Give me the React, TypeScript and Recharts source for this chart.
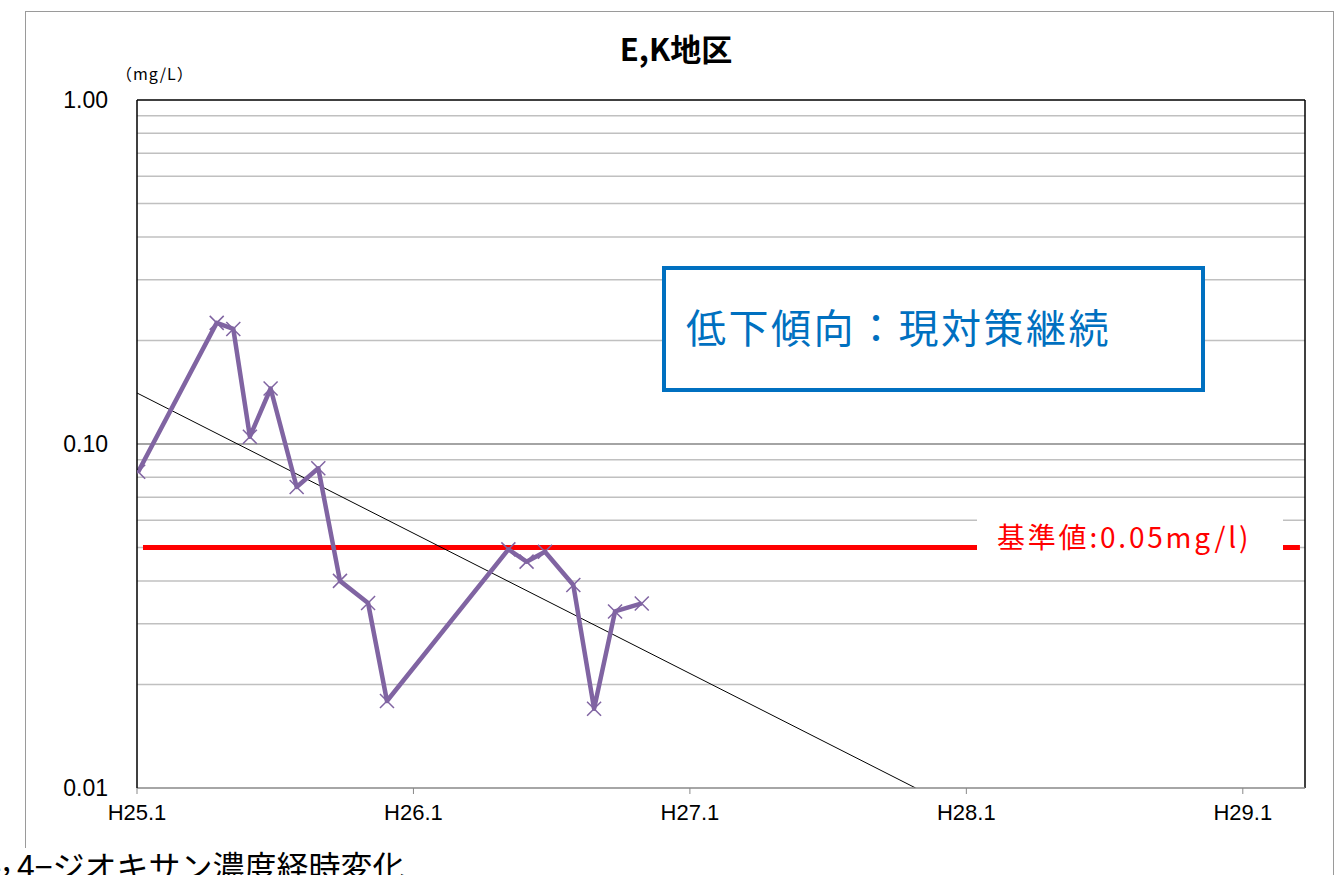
import React from 'react'
import {
  LineChart,
  Line,
  XAxis,
  YAxis,
  ReferenceLine,
} from 'recharts'

// months since H25.1 (Jan 2013) and measured 1,4-dioxane concentration (mg/L)
const months = [0.05, 3.46, 4.18, 4.9, 5.8, 6.93, 7.87, 8.81, 10.03, 10.85, 16.12, 16.91, 17.71, 18.94, 19.84, 20.75, 21.91]
const conc = [0.083, 0.225, 0.216, 0.105, 0.145, 0.075, 0.085, 0.04, 0.0345, 0.0179, 0.0494, 0.0455, 0.0486, 0.0389, 0.017, 0.0326, 0.0344]

// exponential trend line end points
const trendMonths = [0, 33.8]
const trendConc = [0.1407, 0.01]

const xTicks = [0, 12, 24, 36, 48]
const xTickLabels = ['H25.1', 'H26.1', 'H27.1', 'H28.1', 'H29.1']
const yTicks = [0.01, 0.1, 1]
const yTickLabels = ['0.01', '0.10', '1.00']
const minorGrid = [0.02, 0.03, 0.04, 0.05, 0.06, 0.07, 0.08, 0.09, 0.2, 0.3, 0.4, 0.5, 0.6, 0.7, 0.8, 0.9]
const standardValue = 0.05
const standardRange = [0.26, 50.48]
const xMax = 50.7

const seriesData = months.map((m, i) => ({ m, v: conc[i] }))
const trendData = trendMonths.map((m, i) => ({ m, v: trendConc[i] }))

const purple = '#8064A2'
const blue = '#0070C0'
const jp = '"Noto Sans CJK JP", "Noto Sans", sans-serif'
const latin = '"Liberation Sans", Arial, sans-serif'

const CrossDot = (props: any) => {
  const { cx, cy, index } = props
  if (cx == null || cy == null) return null
  const s = 7
  return (
    <g key={`x-${index}`}>
      <line x1={cx - s} y1={cy - s} x2={cx + s} y2={cy + s} stroke={purple} strokeWidth={1.5} />
      <line x1={cx - s} y1={cy + s} x2={cx + s} y2={cy - s} stroke={purple} strokeWidth={1.5} />
    </g>
  )
}

export default function App() {
  return (
    <div
      style={{
        position: 'absolute',
        left: 0,
        top: 0,
        width: 1342,
        height: 875,
        overflow: 'hidden',
        background: '#fff',
      }}
    >
      {/* chart frame */}
      <div
        style={{
          position: 'absolute',
          left: 25,
          top: 11,
          width: 1309,
          height: 900,
          border: '1.5px solid #9a9a9a',
          boxSizing: 'border-box',
        }}
      />
      <div style={{ position: 'absolute', left: 0, top: 0 }}>
        <LineChart
          width={1342}
          height={875}
          margin={{ top: 100, right: 37, bottom: 27, left: 57 }}
        >
          <XAxis
            type="number"
            dataKey="m"
            domain={[0, xMax]}
            ticks={xTicks}
            tickFormatter={(v: number) => xTickLabels[xTicks.indexOf(v)] ?? ''}
            height={60}
            tickSize={6}
            tickMargin={10}
            stroke="#898989"
            axisLine={{ stroke: '#898989', strokeWidth: 1.5 }}
            tick={{ fill: '#000', fontSize: 22, fontFamily: latin }}
            allowDataOverflow
          />
          <YAxis
            type="number"
            dataKey="v"
            scale="log"
            domain={[0.01, 1]}
            ticks={yTicks}
            tickFormatter={(v: number) => yTickLabels[yTicks.indexOf(v)] ?? ''}
            width={80}
            tickLine={false}
            tickSize={0}
            tickMargin={29}
            axisLine={{ stroke: '#000', strokeWidth: 1.5 }}
            tick={{ fill: '#000', fontSize: 23, fontFamily: latin }}
            allowDataOverflow
          />
          {minorGrid.map((g) => (
            <ReferenceLine key={g} y={g} stroke="#c0c0c0" strokeWidth={1.5} />
          ))}
          <ReferenceLine y={0.1} stroke="#868686" strokeWidth={1.5} />
          <ReferenceLine y={1} stroke="#000" strokeWidth={1.5} />
          <ReferenceLine x={xMax} stroke="#000" strokeWidth={1.5} />
          <ReferenceLine
            segment={[
              { x: standardRange[0], y: standardValue },
              { x: standardRange[1], y: standardValue },
            ]}
            stroke="#ff0000"
            strokeWidth={5}
          />
          <Line
            data={trendData}
            dataKey="v"
            stroke="#000"
            strokeWidth={1}
            dot={false}
            isAnimationActive={false}
          />
          <Line
            data={seriesData}
            dataKey="v"
            stroke={purple}
            strokeWidth={4.5}
            strokeLinejoin="round"
            dot={<CrossDot />}
            isAnimationActive={false}
          />
        </LineChart>
      </div>

      {/* title */}
      <div
        style={{
          position: 'absolute',
          left: 526,
          top: 28,
          width: 300,
          textAlign: 'center',
          fontFamily: jp,
          fontWeight: 700,
          fontSize: 31,
          lineHeight: '40px',
          color: '#000',
        }}
      >
        E,K地区
      </div>

      {/* unit */}
      <div
        style={{
          position: 'absolute',
          left: 116,
          top: 62,
          fontFamily: jp,
          fontSize: 16,
          lineHeight: '22px',
          letterSpacing: 1,
          color: '#000',
        }}
      >
        （mg/L）
      </div>

      {/* standard label */}
      <div
        style={{
          position: 'absolute',
          left: 977,
          top: 516,
          width: 306,
          height: 58,
          background: '#fff',
        }}
      >
        <div
          style={{
            position: 'absolute',
            left: 20,
            top: 3,
            fontFamily: jp,
            fontSize: 28,
            lineHeight: '34px',
            letterSpacing: 2.8,
            color: '#ff0000',
            whiteSpace: 'nowrap',
          }}
        >
          基準値:0.05mg/l)
        </div>
      </div>

      {/* comment box */}
      <div
        style={{
          position: 'absolute',
          left: 662,
          top: 266,
          width: 543,
          height: 126,
          border: `4px solid ${blue}`,
          boxSizing: 'border-box',
          background: '#fff',
        }}
      >
        <div
          style={{
            position: 'absolute',
            left: 20,
            top: 34,
            fontFamily: jp,
            fontSize: 40,
            lineHeight: '44px',
            letterSpacing: 2.5,
            color: blue,
            whiteSpace: 'nowrap',
          }}
        >
          低下傾向：現対策継続
        </div>
      </div>

      {/* caption below chart */}
      <div
        style={{
          position: 'absolute',
          left: 0,
          top: 848,
          width: 440,
          height: 40,
          background: '#fff',
        }}
      >
        <div
          style={{
            position: 'absolute',
            left: -23,
            top: -1,
            fontFamily: jp,
            fontSize: 32,
            lineHeight: '36px',
            color: '#000',
            whiteSpace: 'nowrap',
          }}
        >
          <span
            style={{
              display: 'inline-block',
              width: 40,
              paddingRight: 6,
              boxSizing: 'border-box',
              textAlign: 'right',
              position: 'relative',
              top: -8,
            }}
          >
            1,
          </span>
          4−ジオキサン濃度経時変化
        </div>
      </div>
    </div>
  )
}
